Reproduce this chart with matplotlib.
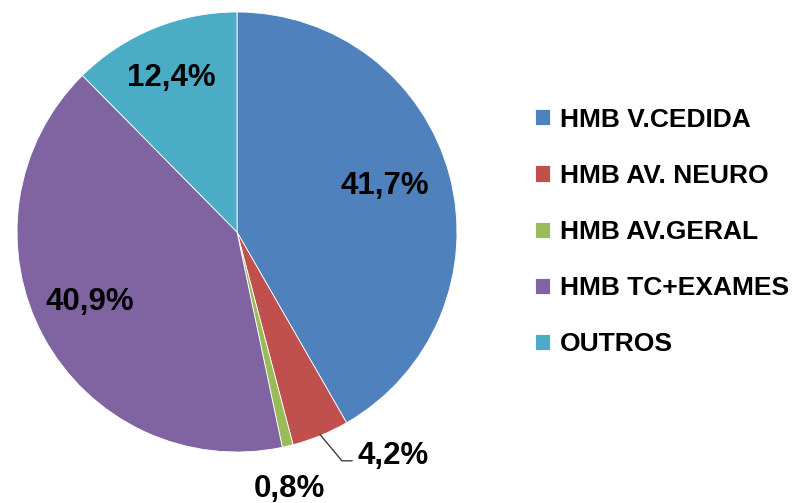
import matplotlib.pyplot as plt

labels = ["HMB V.CEDIDA", "HMB AV. NEURO", "HMB AV.GERAL", "HMB TC+EXAMES", "OUTROS"]
values = [41.7, 4.2, 0.8, 40.9, 12.4]
colors = ["#4F81BD", "#C0504D", "#9BBB59", "#8064A2", "#4BACC6"]

# label positions in pie units (radius = 1)
label_pos = [(0.67, 0.21), (0.71, -1.02), (0.24, -1.17), (-0.67, -0.32), (-0.30, 0.70)]

plt.rcParams["font.family"] = ["Liberation Sans", "DejaVu Sans"]

fig = plt.figure(figsize=(7.98, 5.03), dpi=100)
ax = fig.add_axes([17 / 798, 51 / 503, 440 / 798, 440 / 503])

wedges, _ = ax.pie(values, colors=colors, startangle=90, counterclock=False,
                   radius=1, wedgeprops=dict(edgecolor="white", linewidth=0.6))
ax.set_xlim(-1, 1)
ax.set_ylim(-1, 1)
ax.set_aspect("equal")
ax.axis("off")

for v, (x, y) in zip(values, label_pos):
    txt = f"{v:.1f}%".replace(".", ",")
    ax.text(x, y, txt, ha="center", va="center", fontsize=22.5,
            fontweight="bold", clip_on=False)

# leader line for the small red slice
ax.plot([0.377, 0.477, 0.523], [-0.92, -1.04, -1.04], color="#404040",
        lw=1, clip_on=False)

fig.legend(wedges, labels, loc="center left", bbox_to_anchor=(511 / 798, 1 - 232 / 503),
           frameon=False, handlelength=0.56, handleheight=0.56, handletextpad=0.4,
           labelspacing=1.22, prop=dict(size=19, weight="bold"))

fig.savefig("out.png", dpi=100)
